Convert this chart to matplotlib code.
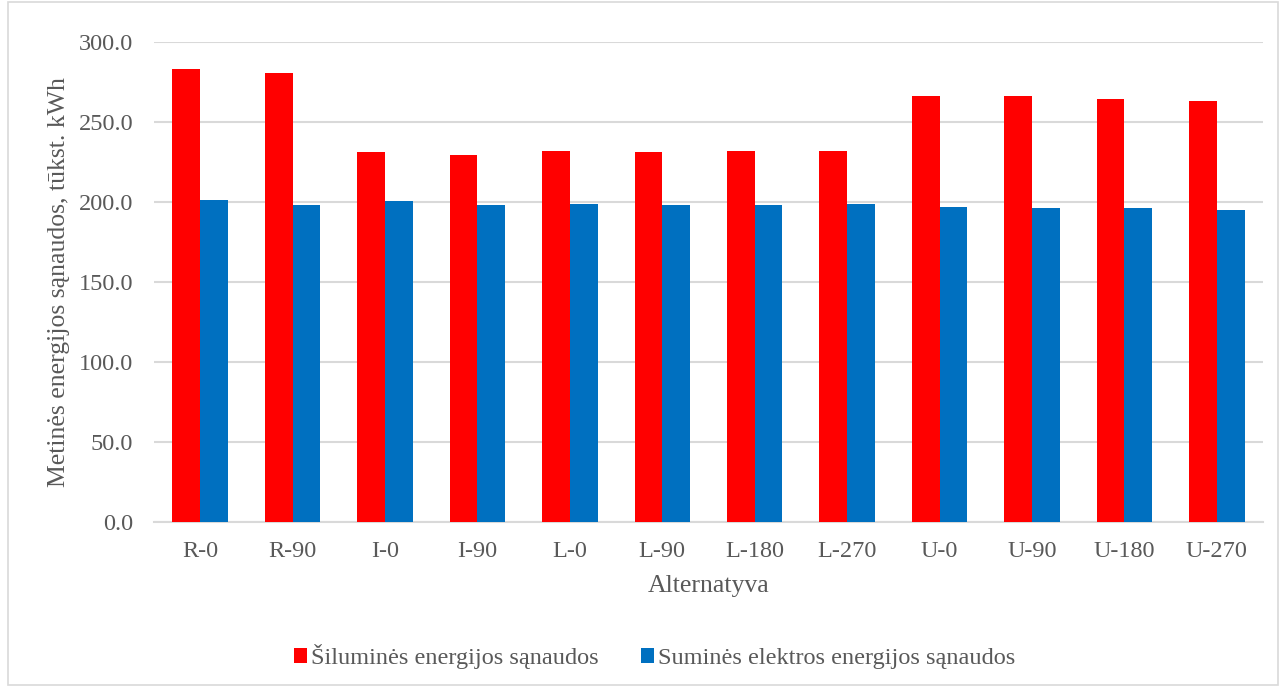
import matplotlib.pyplot as plt
import numpy as np
from matplotlib.patches import Rectangle

plt.rcParams['font.family'] = ['Liberation Serif', 'DejaVu Serif']

categories = ["R-0", "R-90", "I-0", "I-90", "L-0", "L-90", "L-180", "L-270",
              "U-0", "U-90", "U-180", "U-270"]
heat = [282.8, 280.3, 230.9, 229.2, 231.5, 231.0, 231.6, 231.6,
        266.1, 266.1, 264.0, 262.9]
electric = [200.9, 197.7, 200.6, 197.9, 198.5, 197.7, 197.9, 198.5,
            196.6, 196.3, 196.1, 194.8]
yticks = [0, 50, 100, 150, 200, 250, 300]

RED = "#FF0000"
BLUE = "#0070C0"
TEXT = "#595959"
GRID = "#D9D9D9"

fig = plt.figure(figsize=(12.83, 6.87), dpi=100)
ax = fig.add_axes([0.120, 0.2406, 0.8644, 0.6987])

# outer chart frame
fig.patches.append(Rectangle((0.006, 0.003), 0.99, 0.994, transform=fig.transFigure,
                             fill=False, edgecolor=GRID, linewidth=1.2))

x = np.arange(len(categories))
w = 0.30
ax.bar(x - w / 2, heat, w, color=RED, label="Šiluminės energijos sąnaudos", zorder=3)
ax.bar(x + w / 2, electric, w, color=BLUE, label="Suminės elektros energijos sąnaudos", zorder=3)

ax.set_xlim(-0.5, len(categories) - 0.5)
ax.set_ylim(0, 300)
ax.set_yticks(yticks)
ax.set_yticklabels([f"{v:.1f}" for v in yticks])
ax.set_xticks(x)
ax.set_xticklabels(categories)
ax.yaxis.grid(True, color=GRID, linewidth=1.5, zorder=0)
ax.set_axisbelow(True)

for s in ["top", "right", "left"]:
    ax.spines[s].set_visible(False)
ax.spines["bottom"].set_color(GRID)
ax.spines["bottom"].set_linewidth(1.5)
ax.tick_params(axis="both", length=0, labelsize=17.5, labelcolor=TEXT)
ax.tick_params(axis="y", pad=15)
ax.tick_params(axis="x", pad=14)

ax.set_ylabel("Metinės energijos sąnaudos, tūkst. kWh", fontsize=18.5, color=TEXT, labelpad=6)
ax.set_xlabel("Alternatyva", fontsize=18.5, color=TEXT, labelpad=9)

fig.legend(loc="center", bbox_to_anchor=(0.51, 0.044), ncol=2, frameon=False,
           fontsize=17.5, labelcolor=TEXT, handlelength=0.55, handleheight=0.55,
           handletextpad=0.15, columnspacing=1.75)

fig.savefig("out.png", dpi=100)
